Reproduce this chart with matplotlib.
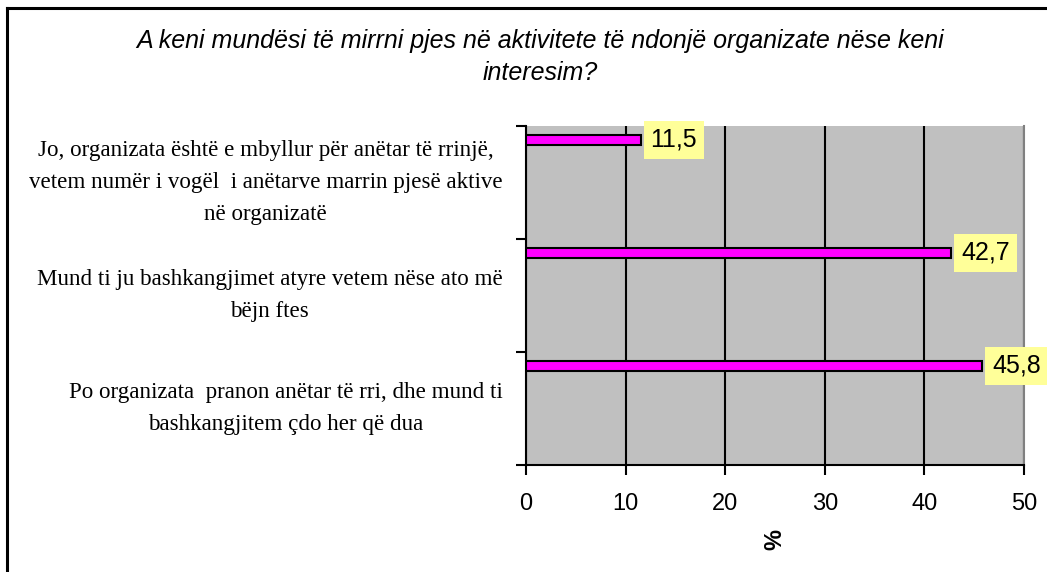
import matplotlib.pyplot as plt
from matplotlib.lines import Line2D

categories = [
    "Jo, organizata është e mbyllur për anëtar të rrinjë,\nvetem numër i vogël  i anëtarve marrin pjesë aktive\nnë organizatë",
    "Mund ti ju bashkangjimet atyre vetem nëse ato më\nbëjn ftes",
    "Po organizata  pranon anëtar të rri, dhe mund ti\nbashkangjitem çdo her që dua",
]
values = [11.5, 42.7, 45.8]
value_labels = ["11,5", "42,7", "45,8"]
x_ticks = [0, 10, 20, 30, 40, 50]

title = "A keni mundësi të mirrni pjes në aktivitete të ndonjë organizate nëse keni\ninteresim?"

W, H = 1047, 572
fig = plt.figure(figsize=(W / 100, H / 100), dpi=100)
fig.patch.set_facecolor("white")

# plot area in pixel terms: x 526..1024, y 126..465
ax = fig.add_axes([526 / W, 1 - 465 / H, (1024 - 526) / W, (465 - 126) / H])
ax.set_facecolor("#C0C0C0")

ypos = [i - 0.377 for i in range(len(values))]
ax.barh(ypos, values, height=0.088, color="#FF00FF", edgecolor="black", linewidth=1.5, zorder=3)

for y, v, lab in zip(ypos, values, value_labels):
    ax.text(v + 1.0, y, lab, va="center", ha="left", fontsize=18, family="Liberation Sans",
            bbox=dict(boxstyle="square,pad=0.28", facecolor="#FFFF99", edgecolor="none"), zorder=4)

ax.set_xlim(0, 50)
ax.set_ylim(2.5, -0.5)
ax.set_xticks(x_ticks)
ax.set_xticklabels([str(t) for t in x_ticks], fontsize=17, family="Liberation Sans")
ax.tick_params(axis="x", direction="out", length=7, width=1.5, pad=13)

ax.set_yticks([-0.5, 0.5, 1.5, 2.5])
ax.set_yticklabels([])
ax.tick_params(axis="y", which="major", direction="out", length=7, width=1.5)
ax.set_yticks([0, 1, 2], minor=True)
ax.set_yticklabels(categories, minor=True, fontsize=16.6, family="Liberation Serif",
                   ha="right", va="center", multialignment="center", linespacing=1.7)
ax.tick_params(axis="y", which="minor", length=0, pad=17)

ax.grid(axis="x", color="black", linewidth=1.5, zorder=1)
ax.set_axisbelow(True)
for s in ["left", "bottom"]:
    ax.spines[s].set_color("black")
    ax.spines[s].set_linewidth(1.5)
ax.spines["top"].set_visible(False)
ax.spines["right"].set_color("#808080")
ax.spines["right"].set_linewidth(1.5)

ax.set_xlabel("%", fontsize=17, fontweight="bold", rotation=90, family="Liberation Sans", labelpad=10)

fig.text(540 / W, 1 - 57 / H, title, ha="center", va="center", fontsize=18, style="italic",
         family="Liberation Sans", linespacing=1.4)

# outer chart border (left and top only visible)
fig.add_artist(Line2D([7 / W, 7 / W], [0, 1 - 8 / H], color="black", linewidth=2.2))
fig.add_artist(Line2D([7 / W, 1], [1 - 8 / H, 1 - 8 / H], color="black", linewidth=2.2))

fig.savefig("out.png", dpi=100)
